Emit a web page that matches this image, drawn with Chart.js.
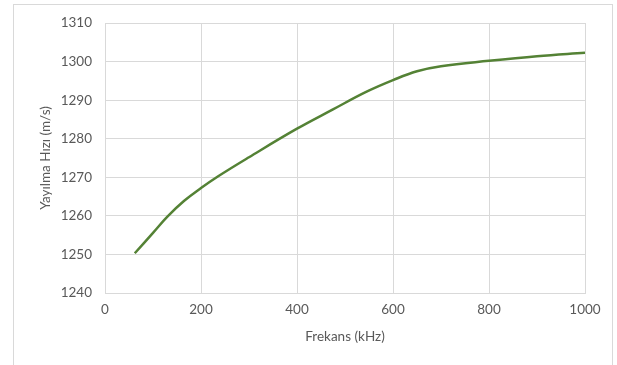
<!DOCTYPE html>
<html>
<head>
<meta charset="utf-8">
<script src="https://cdn.jsdelivr.net/npm/chart.js@4.4.1/dist/chart.umd.min.js"></script>
<style>
  html, body { margin: 0; padding: 0; background: #fff; }
  #frame { position: absolute; left: 13px; top: 4px; width: 600px; height: 380px; border: 1px solid #d9d9d9; box-sizing: border-box; }
  #chart { position: absolute; left: 0; top: 0; }
</style>
</head>
<body>
<div id="frame"></div>
<canvas id="chart" width="617" height="365"></canvas>
<script>
// frequency (kHz) and propagation speed (m/s)
const frequency = [62, 100, 130, 165, 200, 235, 300, 400, 475, 545, 600, 650, 700, 800, 900, 1000];
const speed = [1250.3, 1255.6, 1259.8, 1263.9, 1267.2, 1270.2, 1275.2, 1282.6, 1287.6, 1292.2, 1295.2, 1297.5, 1298.8, 1300.2, 1301.4, 1302.3];
const xTicks = [0, 200, 400, 600, 800, 1000];
const yTicks = [1240, 1250, 1260, 1270, 1280, 1290, 1300, 1310];

const grey = '#595959';
const gridColor = '#d9d9d9';
const font = { family: 'Lato, sans-serif', size: 13.5 };

const points = frequency.map((f, i) => ({ x: f, y: speed[i] }));

new Chart(document.getElementById('chart').getContext('2d'), {
    type: 'line',
    data: {
        datasets: [{
            data: points,
            borderColor: '#548235',
            borderWidth: 2.5,
            pointRadius: 0,
            fill: false,
            tension: 0.4
        }]
    },
    options: {
        responsive: false,
        animation: false,
        layout: { padding: { top: 23, right: 32, left: 0, bottom: 0 } },
        plugins: { legend: { display: false }, tooltip: { enabled: false } },
        scales: {
            x: {
                type: 'linear',
                min: 0,
                max: 1000,
                afterBuildTicks: s => { s.ticks = xTicks.map(v => ({ value: v })); },
                afterFit: s => { s.height = 72; },
                grid: { color: gridColor, drawTicks: false },
                border: { color: gridColor },
                ticks: { color: grey, font: font, padding: 9, maxRotation: 0, callback: v => String(v) },
                title: { display: true, text: 'Frekans (kHz)', color: grey, font: font, padding: { top: 0, bottom: 20 } }
            },
            y: {
                min: 1240,
                max: 1310,
                afterBuildTicks: s => { s.ticks = yTicks.map(v => ({ value: v })); },
                afterFit: s => { s.width = 105; },
                grid: { color: gridColor, drawTicks: false },
                border: { color: gridColor },
                ticks: { color: grey, font: font, padding: 13, callback: v => String(v) },
                title: { display: true, text: 'Yayılma Hızı (m/s)', color: grey, font: font, padding: { top: 38, bottom: 0 } }
            }
        }
    }
});
</script>
</body>
</html>
